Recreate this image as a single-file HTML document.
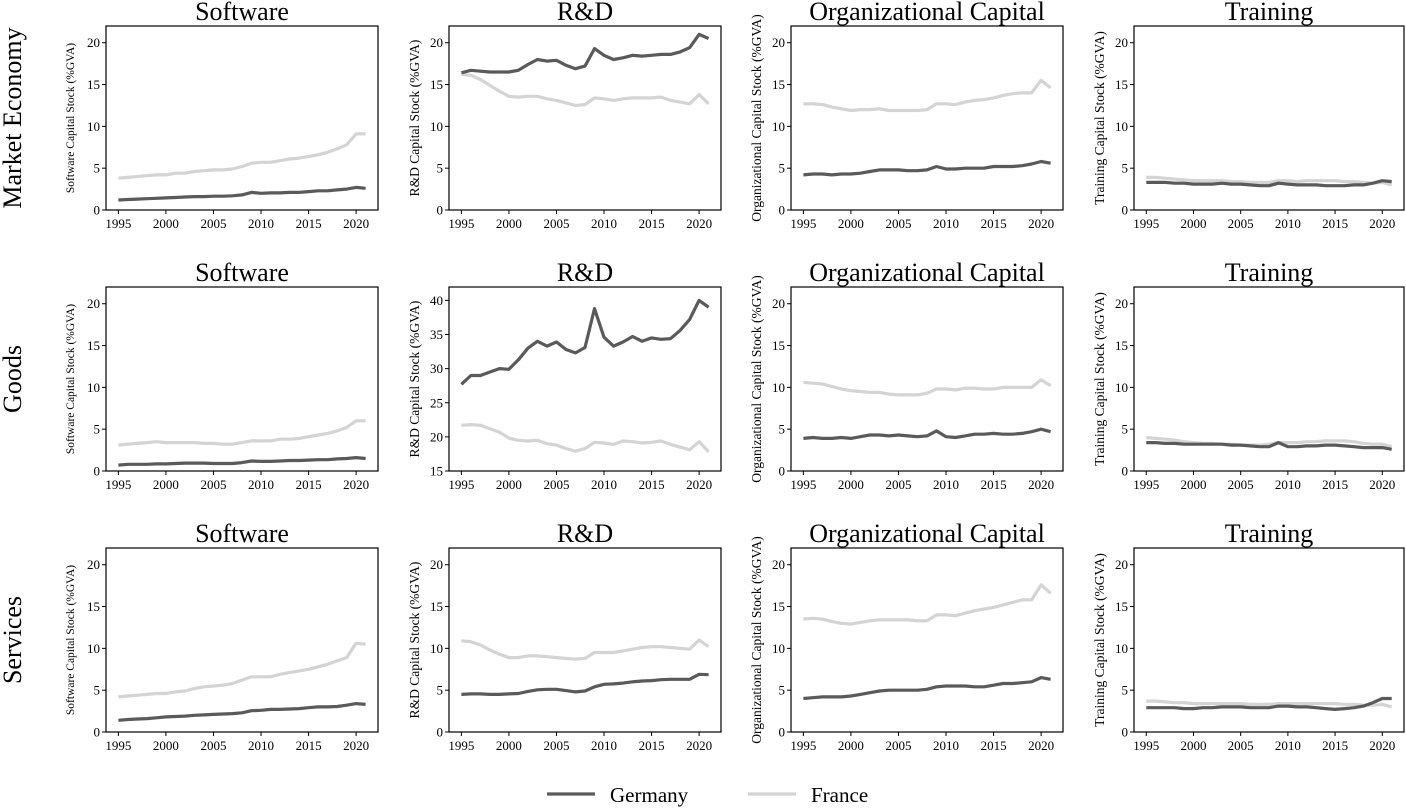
<!DOCTYPE html>
<html><head><meta charset="utf-8"><style>
html,body{margin:0;padding:0;background:#fff}
svg text{font-family:"Liberation Serif",serif;fill:#000}
</style></head><body>
<svg id="fig" width="1406" height="807" viewBox="0 0 1406 807" xmlns="http://www.w3.org/2000/svg"></svg>
<script>
const years = [];
for (let y = 1995; y <= 2021; y++) years.push(y);
const xTicks = [1995,2000,2005,2010,2015,2020];
const rowLabels = ["Market Economy","Goods","Services"];
const colTitles = ["Software","R&D","Organizational Capital","Training"];
const yLabels = ["Software Capital Stock (%GVA)","R&D Capital Stock (%GVA)","Organizational Capital Stock (%GVA)","Training Capital Stock (%GVA)"];
const ticksStd = [0,5,10,15,20];
const ticksRD2 = [15,20,25,30,35,40];

const me_sw_de = [1.2,1.25,1.3,1.35,1.4,1.45,1.5,1.55,1.6,1.6,1.65,1.65,1.7,1.8,2.1,2.0,2.05,2.05,2.1,2.1,2.2,2.3,2.3,2.4,2.5,2.7,2.6];
const me_sw_fr = [3.8,3.9,4.0,4.1,4.2,4.2,4.4,4.4,4.6,4.7,4.8,4.8,4.9,5.2,5.6,5.7,5.7,5.9,6.1,6.2,6.4,6.6,6.9,7.3,7.8,9.1,9.1];
const me_rd_de = [16.4,16.7,16.6,16.5,16.5,16.5,16.7,17.4,18.0,17.8,17.9,17.3,16.9,17.2,19.3,18.5,18.0,18.2,18.5,18.4,18.5,18.6,18.6,18.9,19.4,21.0,20.5];
const me_rd_fr = [16.2,16.1,15.6,14.9,14.2,13.6,13.5,13.6,13.6,13.3,13.1,12.8,12.5,12.6,13.4,13.3,13.1,13.3,13.4,13.4,13.4,13.5,13.1,12.9,12.7,13.8,12.7];
const me_oc_de = [4.2,4.3,4.3,4.2,4.3,4.3,4.4,4.6,4.8,4.8,4.8,4.7,4.7,4.8,5.2,4.9,4.9,5.0,5.0,5.0,5.2,5.2,5.2,5.3,5.5,5.8,5.6];
const me_oc_fr = [12.7,12.7,12.6,12.3,12.1,11.9,12.0,12.0,12.1,11.9,11.9,11.9,11.9,12.0,12.7,12.7,12.6,12.9,13.1,13.2,13.4,13.7,13.9,14.0,14.0,15.5,14.6];
const me_tr_de = [3.3,3.3,3.3,3.2,3.2,3.1,3.1,3.1,3.2,3.1,3.1,3.0,2.9,2.9,3.2,3.1,3.0,3.0,3.0,2.9,2.9,2.9,3.0,3.0,3.2,3.5,3.4];
const me_tr_fr = [3.9,3.9,3.8,3.7,3.6,3.5,3.5,3.5,3.5,3.4,3.4,3.3,3.3,3.3,3.5,3.5,3.4,3.5,3.5,3.5,3.5,3.4,3.4,3.3,3.2,3.3,3.0];
const gd_sw_de = [0.7,0.8,0.8,0.8,0.85,0.85,0.9,0.95,0.95,0.95,0.9,0.9,0.9,1.0,1.2,1.15,1.15,1.2,1.25,1.25,1.3,1.35,1.35,1.45,1.5,1.6,1.5];
const gd_sw_fr = [3.1,3.2,3.3,3.4,3.5,3.4,3.4,3.4,3.4,3.3,3.3,3.2,3.2,3.4,3.6,3.6,3.6,3.8,3.8,3.9,4.1,4.3,4.5,4.8,5.2,6.0,6.0];
const gd_rd_de = [27.7,29.0,29.0,29.5,30.0,29.9,31.3,33.0,34.0,33.3,33.9,32.8,32.3,33.1,38.8,34.6,33.3,33.9,34.7,34.0,34.5,34.3,34.4,35.6,37.2,40.0,39.0];
const gd_rd_fr = [21.7,21.8,21.7,21.2,20.7,19.8,19.5,19.4,19.5,19.0,18.8,18.3,17.9,18.3,19.2,19.1,18.9,19.4,19.3,19.1,19.2,19.4,18.9,18.5,18.1,19.3,17.8];
const gd_oc_de = [3.9,4.0,3.9,3.9,4.0,3.9,4.1,4.3,4.3,4.2,4.3,4.2,4.1,4.2,4.8,4.1,4.0,4.2,4.4,4.4,4.5,4.4,4.4,4.5,4.7,5.0,4.7];
const gd_oc_fr = [10.6,10.5,10.4,10.1,9.8,9.6,9.5,9.4,9.4,9.2,9.1,9.1,9.1,9.3,9.8,9.8,9.7,9.9,9.9,9.8,9.8,10.0,10.0,10.0,10.0,10.9,10.2];
const gd_tr_de = [3.4,3.4,3.3,3.3,3.2,3.2,3.2,3.2,3.2,3.1,3.1,3.0,2.9,2.9,3.4,2.9,2.9,3.0,3.0,3.1,3.1,3.0,2.9,2.8,2.8,2.8,2.6];
const gd_tr_fr = [4.0,3.9,3.8,3.7,3.5,3.4,3.3,3.3,3.2,3.2,3.1,3.1,3.1,3.2,3.4,3.4,3.4,3.5,3.5,3.6,3.6,3.6,3.5,3.3,3.2,3.2,2.9];
const sv_sw_de = [1.4,1.5,1.55,1.6,1.7,1.8,1.85,1.9,2.0,2.05,2.1,2.15,2.2,2.3,2.55,2.6,2.7,2.7,2.75,2.8,2.9,3.0,3.0,3.05,3.2,3.4,3.3];
const sv_sw_fr = [4.2,4.3,4.4,4.5,4.6,4.6,4.8,4.9,5.2,5.4,5.5,5.6,5.8,6.2,6.6,6.6,6.6,6.9,7.1,7.3,7.5,7.8,8.1,8.5,8.9,10.6,10.5];
const sv_rd_de = [4.5,4.55,4.55,4.5,4.5,4.55,4.6,4.85,5.05,5.1,5.1,4.95,4.8,4.9,5.4,5.7,5.75,5.85,6.0,6.1,6.15,6.25,6.3,6.3,6.3,6.9,6.85];
const sv_rd_fr = [10.9,10.8,10.4,9.8,9.3,8.9,8.9,9.1,9.1,9.0,8.9,8.8,8.7,8.8,9.5,9.5,9.5,9.7,9.9,10.1,10.2,10.2,10.1,10.0,9.9,11.0,10.2];
const sv_oc_de = [4.0,4.1,4.2,4.2,4.2,4.3,4.5,4.7,4.9,5.0,5.0,5.0,5.0,5.1,5.4,5.5,5.5,5.5,5.4,5.4,5.6,5.8,5.8,5.9,6.0,6.5,6.3];
const sv_oc_fr = [13.5,13.6,13.5,13.2,13.0,12.9,13.1,13.3,13.4,13.4,13.4,13.4,13.3,13.3,14.0,14.0,13.9,14.2,14.5,14.7,14.9,15.2,15.5,15.8,15.8,17.6,16.6];
const sv_tr_de = [2.9,2.9,2.9,2.9,2.8,2.8,2.9,2.9,3.0,3.0,3.0,2.9,2.9,2.9,3.1,3.1,3.0,3.0,2.9,2.8,2.7,2.8,2.9,3.1,3.5,4.0,4.0];
const sv_tr_fr = [3.7,3.7,3.6,3.5,3.5,3.4,3.4,3.4,3.4,3.4,3.4,3.3,3.3,3.3,3.4,3.4,3.4,3.4,3.4,3.4,3.4,3.3,3.3,3.2,3.2,3.3,3.0];

const grid = [
  [[me_sw_de,me_sw_fr],[me_rd_de,me_rd_fr],[me_oc_de,me_oc_fr],[me_tr_de,me_tr_fr]],
  [[gd_sw_de,gd_sw_fr],[gd_rd_de,gd_rd_fr],[gd_oc_de,gd_oc_fr],[gd_tr_de,gd_tr_fr]],
  [[sv_sw_de,sv_sw_fr],[sv_rd_de,sv_rd_fr],[sv_oc_de,sv_oc_fr],[sv_tr_de,sv_tr_fr]]
];
const DE_COLOR = "#5a5a5a", FR_COLOR = "#d4d4d4";
const NS = "http://www.w3.org/2000/svg";
const svg = document.getElementById("fig");
function mk(tag, attrs, parent){
  const e = document.createElementNS(NS, tag);
  for (const k in attrs) e.setAttribute(k, attrs[k]);
  (parent||svg).appendChild(e);
  return e;
}
const colLeft = [106,449,791,1134];
const colW = [272,272,272,270];
const rowTop = [26,287,548];
const H = 184;
const XMIN = 1993.7, XMAX = 2022.3;

for (let r = 0; r < 3; r++) {
  const rl = mk("text", {x:0,y:0,"font-size":26,"text-anchor":"middle",transform:`translate(21,${rowTop[r]+H/2}) rotate(-90)`});
  
  
  rl.textContent = rowLabels[r];
  for (let c = 0; c < 4; c++) {
    const L = colLeft[c], W = colW[c], T = rowTop[r], B = T + H;
    const isRD2 = (r === 1 && c === 1);
    const ymin = isRD2 ? 15 : 0, ymax = isRD2 ? 41.96 : 22;
    const ticks = isRD2 ? ticksRD2 : ticksStd;
    const xs = v => L + (v - XMIN) / (XMAX - XMIN) * W;
    const ys = v => B - (v - ymin) / (ymax - ymin) * H;
    const g = mk("g", {});
    
    
    const t = mk("text", {x:L+W/2,y:T-6,"font-size":26,"text-anchor":"middle"}, g);
    
    
    t.textContent = colTitles[c];
    const names = ["germany-line","france-line"], cols = [DE_COLOR, FR_COLOR];
    for (let s = 1; s >= 0; s--) {
      const vals = grid[r][c][s];
      const d = vals.map((v,i)=>(i?"L":"M")+xs(years[i]).toFixed(1)+","+ys(v).toFixed(1)).join(" ");
      const p = mk("path", {d:d, fill:"none", stroke:cols[s], "stroke-width":3.2, "stroke-linejoin":"round"}, g);
      
      
    }
    const fr = mk("rect", {x:L,y:T,width:W,height:H,fill:"none",stroke:"#000","stroke-width":1.2}, g);
    
    
    for (const tv of ticks) {
      const y = ys(tv);
      mk("line", {x1:L-4,x2:L,y1:y,y2:y,stroke:"#000","stroke-width":1}, g);
      const tl = mk("text", {x:L-6,y:y+4.5,"font-size":13,"text-anchor":"end"}, g);
      
      
      tl.textContent = tv;
    }
    for (const tv of xTicks) {
      const x = xs(tv);
      mk("line", {x1:x,x2:x,y1:B,y2:B+4,stroke:"#000","stroke-width":1}, g);
      const tl = mk("text", {x:x,y:B+18,"font-size":13,"text-anchor":"middle"}, g);
      
      
      tl.textContent = tv;
    }
    const fs = c === 0 ? 11.5 : 13.5;
    const yl = mk("text", {x:0,y:0,"font-size":fs,"text-anchor":"middle",transform:`translate(${L-(c===0?32:30)},${T+H/2}) rotate(-90)`}, g);
    
    
    yl.textContent = yLabels[c];
  }
}
const lg = mk("g", {});


const entries = [["Germany",DE_COLOR,547],["France",FR_COLOR,748]];
for (const [n,col,x] of entries) {
  const e = mk("g", {}, lg);
  
  
  mk("line", {x1:x,x2:x+48,y1:794,y2:794,stroke:col,"stroke-width":3.2}, e);
  const t = mk("text", {x:x+63,y:802,"font-size":21}, e);
  t.textContent = n;
}
</script>
</body></html>
